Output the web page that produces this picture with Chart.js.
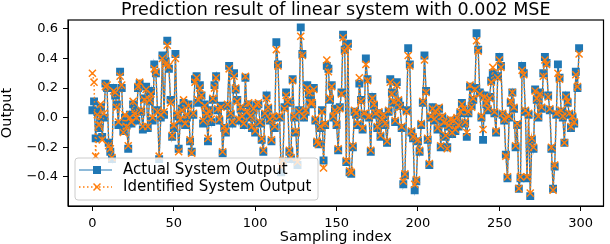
<!DOCTYPE html>
<html>
<head>
<meta charset="utf-8">
<script src="https://cdn.jsdelivr.net/npm/chart.js@4/dist/chart.umd.min.js"></script>
<style>
    html, body { margin: 0; padding: 0; background: #fff; }
    #contenedor { width: 610px; height: 244px; }
</style>
</head>
<body>
<div id="contenedor"><canvas id="grafico" width="610" height="244"></canvas></div>
<script>
const actual = [
    0.05, 0.11, -0.14, 0.04, -0.07, 0.07, -0.13, 0.00, 0.23, 0.20,
    -0.17, -0.23, -0.28, 0.20, 0.15, 0.09, -0.05, 0.31, 0.20, -0.09,
    0.00, -0.05, -0.21, 0.02, -0.04, 0.09, 0.04, -0.02, 0.20, 0.23,
    0.04, -0.08, 0.13, 0.21, -0.07, 0.11, 0.18, -0.02, 0.36, 0.30,
    0.05, -0.28, 0.00, 0.42, 0.02, 0.38, 0.52, 0.33, 0.12, -0.13,
    -0.07, 0.43, 0.01, -0.21, -0.02, 0.06, 0.10, -0.05, 0.00, 0.09,
    -0.16, -0.23, 0.02, 0.26, 0.28, 0.10, 0.22, 0.15, -0.04, 0.09,
    0.01, -0.16, 0.05, -0.03, 0.12, 0.22, 0.28, 0.05, -0.02, 0.08,
    -0.24, -0.07, -0.10, 0.08, 0.35, 0.02, -0.04, 0.30, 0.19, 0.12,
    -0.02, 0.06, 0.00, -0.05, 0.27, 0.03, 0.09, 0.00, -0.07, 0.05,
    -0.10, 0.08, 0.09, -0.04, -0.15, -0.23, 0.02, 0.15, 0.06, -0.02,
    -0.16, 0.00, -0.07, 0.51, 0.36, 0.00, -0.37, -0.30, 0.07, 0.17,
    0.10, -0.23, -0.28, 0.26, 0.00, -0.10, -0.32, 0.05, 0.61, 0.43,
    0.00, 0.04, 0.22, 0.16, 0.11, 0.09, 0.20, -0.02, -0.17, -0.18,
    -0.07, 0.05, -0.29, -0.05, 0.35, 0.33, 0.12, 0.22, 0.00, 0.06,
    -0.05, -0.22, 0.07, 0.17, 0.56, 0.46, -0.30, 0.50, -0.37, -0.38,
    -0.20, 0.04, 0.02, -0.05, 0.23, 0.12, -0.08, 0.02, 0.40, 0.26,
    0.00, -0.23, 0.14, 0.08, 0.02, -0.07, 0.03, -0.13, -0.02, 0.01,
    -0.05, -0.17, 0.04, 0.26, 0.17, 0.10, -0.03, 0.24, 0.11, 0.08,
    -0.07, -0.45, -0.39, 0.05, 0.47, 0.36, -0.10, -0.14, -0.49, -0.43,
    -0.16, -0.23, -0.05, 0.10, 0.42, 0.18, -0.15, -0.32, 0.00, 0.07,
    -0.02, 0.03, -0.08, 0.06, -0.20, 0.00, -0.04, -0.13, -0.20, -0.06,
    -0.02, -0.11, -0.03, -0.09, -0.01, -0.06, 0.03, 0.10, 0.05, -0.04,
    -0.13, 0.03, 0.21, 0.08, 0.12, 0.20, 0.57, 0.46, 0.17, 0.00,
    -0.15, 0.15, 0.09, 0.05, 0.14, 0.25, 0.30, 0.03, -0.10, 0.28,
    0.41, 0.35, 0.02, -0.02, -0.25, -0.41, 0.00, 0.10, 0.17, 0.06,
    -0.20, -0.05, -0.48, -0.41, 0.35, 0.30, 0.04, -0.41, 0.02, -0.53,
    -0.15, -0.21, 0.19, 0.12, 0.00, 0.17, 0.06, 0.30, 0.41, 0.37,
    0.15, 0.05, -0.21, -0.48, -0.33, 0.02, 0.36, 0.27, 0.04, 0.00,
    -0.17, 0.15, 0.10, 0.02, -0.07, 0.00, -0.04, 0.31, 0.20, 0.47
];

const identified = [
    0.30, 0.24, -0.26, 0.02, -0.05, 0.09, -0.15, 0.03, 0.21, 0.22,
    -0.19, -0.21, -0.27, 0.18, 0.17, 0.07, -0.03, 0.28, 0.22, -0.10,
    0.02, -0.06, -0.19, 0.00, -0.03, 0.11, 0.03, 0.00, 0.21, 0.24,
    0.05, -0.06, 0.12, 0.19, -0.06, 0.12, 0.16, 0.00, 0.33, 0.31,
    0.04, -0.26, 0.02, 0.40, 0.04, 0.36, 0.49, 0.35, 0.10, -0.12,
    -0.05, 0.40, 0.03, -0.23, -0.01, 0.05, 0.12, -0.04, 0.02, 0.08,
    -0.15, -0.24, 0.03, 0.24, 0.27, 0.12, 0.20, 0.15, -0.02, 0.08,
    0.03, -0.14, 0.04, -0.01, 0.13, 0.20, 0.27, 0.06, -0.01, 0.07,
    -0.23, -0.06, -0.09, 0.09, 0.33, 0.03, -0.03, 0.28, 0.20, 0.11,
    -0.01, 0.07, 0.01, -0.04, 0.28, 0.04, 0.10, 0.01, -0.06, 0.06,
    -0.09, 0.09, 0.10, -0.03, -0.14, -0.22, 0.03, 0.13, 0.07, -0.01,
    -0.15, 0.01, -0.06, 0.46, 0.35, 0.01, -0.33, -0.29, 0.06, 0.15,
    0.11, -0.22, -0.27, 0.25, 0.01, -0.09, -0.30, 0.04, 0.55, 0.42,
    0.01, 0.05, 0.20, 0.17, 0.10, 0.10, 0.19, -0.01, -0.16, -0.18,
    -0.06, 0.04, -0.34, -0.04, 0.39, 0.31, 0.13, 0.21, 0.01, 0.05,
    -0.04, -0.21, 0.06, 0.16, 0.54, 0.45, -0.29, 0.48, -0.36, -0.37,
    -0.19, 0.05, 0.03, -0.04, 0.27, 0.11, -0.07, 0.03, 0.36, 0.25,
    0.01, -0.22, 0.13, 0.09, 0.03, -0.06, 0.04, -0.12, -0.01, 0.02,
    -0.04, -0.16, 0.05, 0.24, 0.16, 0.11, -0.02, 0.22, 0.12, 0.07,
    -0.06, -0.43, -0.38, 0.04, 0.42, 0.35, -0.09, -0.13, -0.45, -0.42,
    -0.15, -0.22, -0.04, 0.11, 0.39, 0.17, -0.14, -0.31, 0.01, 0.06,
    -0.01, 0.04, -0.07, 0.07, -0.19, 0.01, -0.03, -0.12, -0.21, -0.05,
    -0.01, -0.10, -0.02, -0.08, 0.00, -0.05, 0.04, 0.09, 0.06, -0.03,
    -0.10, 0.04, 0.22, 0.07, 0.13, 0.19, 0.52, 0.45, 0.16, 0.01,
    -0.08, 0.14, 0.10, 0.06, 0.13, 0.24, 0.34, 0.04, -0.09, 0.27,
    0.39, 0.34, 0.03, -0.01, -0.26, -0.40, 0.01, 0.11, 0.17, 0.07,
    -0.19, -0.04, -0.48, -0.40, 0.32, 0.29, 0.05, -0.40, 0.03, -0.51,
    -0.14, -0.20, 0.18, 0.13, 0.01, 0.16, 0.07, 0.28, 0.39, 0.36,
    0.14, 0.06, -0.20, -0.49, -0.32, 0.03, 0.30, 0.26, 0.05, 0.01,
    -0.17, 0.14, 0.11, 0.03, -0.06, 0.01, -0.03, 0.29, 0.21, 0.43
];

const xTicks = [0, 50, 100, 150, 200, 250, 300];
const yTicks = [-0.4, -0.2, 0.0, 0.2, 0.4, 0.6];

const titulo = 'Prediction result of linear system with 0.002 MSE';
const labelActual = 'Actual System Output';
const labelIdentified = 'Identified System Output';

const AZUL = '#1f77b4';
const NARANJA = '#ff7f0e';
const FUENTE = 'DejaVu Sans';

Chart.defaults.font.family = FUENTE;
Chart.defaults.color = '#000';

// marco, titulo y leyenda dibujados a mano (estilo matplotlib)
const extras = {
    id: 'extras',
    afterDraw(chart) {
        const { ctx, chartArea: a } = chart;
        ctx.save();

        ctx.strokeStyle = '#000';
        ctx.lineWidth = 1.2;
        ctx.strokeRect(a.left, a.top, a.right - a.left, a.bottom - a.top);

        ctx.fillStyle = '#000';
        ctx.font = `17.5px "${FUENTE}"`;
        ctx.textAlign = 'center';
        ctx.textBaseline = 'middle';
        ctx.fillText(titulo, (a.left + a.right) / 2, 10);

        // leyenda
        const bx = 75, by = 158, bw = 243, bh = 42;
        ctx.beginPath();
        ctx.roundRect(bx, by, bw, bh, 3);
        ctx.fillStyle = 'rgba(255,255,255,0.8)';
        ctx.fill();
        ctx.strokeStyle = '#cccccc';
        ctx.lineWidth = 1;
        ctx.stroke();

        const y1 = 170, y2 = 187;
        ctx.strokeStyle = AZUL;
        ctx.lineWidth = 1.2;
        ctx.beginPath();
        ctx.moveTo(79, y1);
        ctx.lineTo(112, y1);
        ctx.stroke();
        ctx.fillStyle = AZUL;
        ctx.fillRect(97 - 4, y1 - 4, 8, 8);

        ctx.strokeStyle = NARANJA;
        ctx.lineWidth = 1.5;
        ctx.setLineDash([1.5, 2.5]);
        ctx.beginPath();
        ctx.moveTo(79, y2);
        ctx.lineTo(112, y2);
        ctx.stroke();
        ctx.setLineDash([]);
        ctx.beginPath();
        ctx.moveTo(93.5, y2 - 3.5);
        ctx.lineTo(100.5, y2 + 3.5);
        ctx.moveTo(93.5, y2 + 3.5);
        ctx.lineTo(100.5, y2 - 3.5);
        ctx.stroke();

        ctx.fillStyle = '#000';
        ctx.font = `15px "${FUENTE}"`;
        ctx.textAlign = 'left';
        ctx.fillText(labelActual, 123, y1);
        ctx.fillText(labelIdentified, 123, y2);

        ctx.restore();
    }
};

const ctx = document.querySelector('#grafico').getContext('2d');

const myChart = new Chart(ctx, {
    type: 'line',
    data: {
        datasets: [{
            label: labelActual,
            data: actual.map((v, i) => ({ x: i, y: v })),
            borderColor: AZUL,
            backgroundColor: AZUL,
            borderWidth: 1.3,
            pointStyle: 'rect',
            pointRadius: 5.6,
            pointBorderWidth: 0,
            tension: 0,
            order: 2
        }, {
            label: labelIdentified,
            data: identified.map((v, i) => ({ x: i, y: v })),
            borderColor: NARANJA,
            backgroundColor: NARANJA,
            borderWidth: 1.5,
            borderDash: [1.5, 2.5],
            pointStyle: 'crossRot',
            pointRadius: 5,
            pointBorderWidth: 1.5,
            pointBorderColor: NARANJA,
            tension: 0,
            order: 1
        }]
    },
    options: {
        responsive: false,
        animation: false,
        devicePixelRatio: 1,
        layout: {
            padding: { top: 20, right: 3, left: 0, bottom: 0 }
        },
        scales: {
            x: {
                type: 'linear',
                min: -15,
                max: 314,
                afterBuildTicks: scale => { scale.ticks = xTicks.map(v => ({ value: v })); },
                afterFit: scale => { scale.height = 38; },
                ticks: {
                    font: { size: 13 },
                    padding: 5,
                    maxRotation: 0,
                    callback: v => String(v)
                },
                grid: { drawOnChartArea: false, tickLength: 5, color: '#000' },
                border: { color: '#000', width: 1 },
                title: {
                    display: true,
                    text: 'Sampling index',
                    font: { size: 14.5, lineHeight: 1 },
                    padding: { top: 0, bottom: 0 }
                }
            },
            y: {
                min: -0.597,
                max: 0.66,
                afterBuildTicks: scale => { scale.ticks = yTicks.map(v => ({ value: v })); },
                afterFit: scale => { scale.width = 68; },
                ticks: {
                    font: { size: 13 },
                    padding: 5,
                    callback: v => (v < 0 ? '\u2212' : '') + Math.abs(v).toFixed(1)
                },
                grid: { drawOnChartArea: false, tickLength: 5, color: '#000' },
                border: { color: '#000', width: 1 },
                title: {
                    display: true,
                    text: 'Output',
                    font: { size: 14.5, lineHeight: 1 },
                    padding: { top: 0, bottom: 0 }
                }
            }
        },
        plugins: {
            legend: { display: false },
            tooltip: { enabled: false }
        }
    },
    plugins: [extras]
});
</script>
</body>
</html>
